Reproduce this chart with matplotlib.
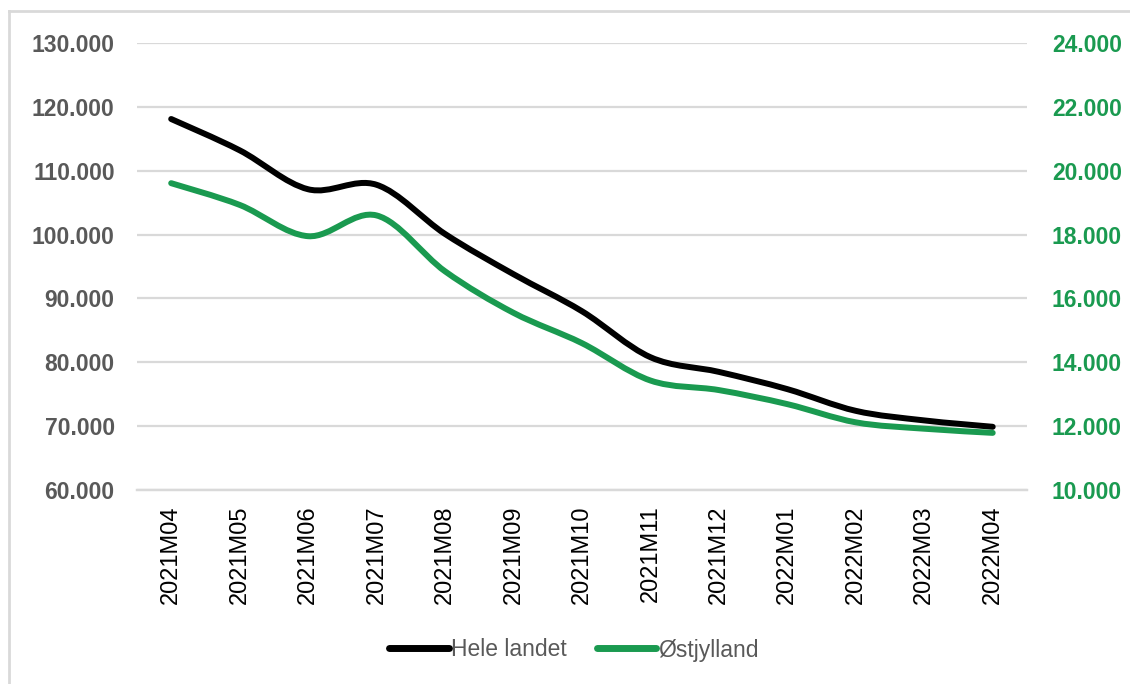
"""Hele landet vs. Østjylland, monthly, two y-axes with Excel-style smoothed lines."""

import matplotlib

matplotlib.use("Agg")
import matplotlib.pyplot as plt
from matplotlib.lines import Line2D
from matplotlib.patches import PathPatch
from matplotlib.path import Path

months = ["2021M04", "2021M05", "2021M06", "2021M07", "2021M08", "2021M09",
          "2021M10", "2021M11", "2021M12", "2022M01", "2022M02", "2022M03",
          "2022M04"]
hele_landet = [118100, 113200, 107100, 107800, 100100, 93800, 88000,
               80800, 78500, 75800, 72400, 70900, 69900]
oestjylland = [19610, 18930, 17950, 18600, 16850, 15550, 14600,
               13430, 13130, 12690, 12120, 11920, 11790]

left_ticks = [60000, 70000, 80000, 90000, 100000, 110000, 120000, 130000]
right_ticks = [10000, 12000, 14000, 16000, 18000, 20000, 22000, 24000]

_BLACK = "#000000"
_GREEN = "#1a9a50"
_GRAY_TEXT = "#595959"
_GRID = "#d9d9d9"
_FONT = "Liberation Sans"


def dk(v):
    # Danish thousands separator
    return f"{v:,.0f}".replace(",", ".")


def smooth_path(xs, ys):
    """Catmull-Rom style cubic Bezier through the points, like Excel's smoothed line."""
    verts = [(xs[0], ys[0])]
    codes = [Path.MOVETO]
    n = len(xs)
    for i in range(n - 1):
        p0 = (xs[max(i - 1, 0)], ys[max(i - 1, 0)])
        p1 = (xs[i], ys[i])
        p2 = (xs[i + 1], ys[i + 1])
        p3 = (xs[min(i + 2, n - 1)], ys[min(i + 2, n - 1)])
        c1 = (p1[0] + (p2[0] - p0[0]) / 6, p1[1] + (p2[1] - p0[1]) / 6)
        c2 = (p2[0] - (p3[0] - p1[0]) / 6, p2[1] - (p3[1] - p1[1]) / 6)
        verts += [c1, c2, p2]
        codes += [Path.CURVE4] * 3
    return Path(verts, codes)


fig = plt.figure(figsize=(11.3, 6.84), dpi=100)
ax = fig.add_axes([0.1212, 0.2836, 0.7876, 0.6535])
ax2 = ax.twinx()

x = list(range(len(months)))
ax.add_patch(PathPatch(smooth_path(x, hele_landet), fill=False, edgecolor=_BLACK,
                       linewidth=4.3, capstyle="round", joinstyle="round", zorder=3))
ax2.add_patch(PathPatch(smooth_path(x, oestjylland), fill=False, edgecolor=_GREEN,
                        linewidth=4.3, capstyle="round", joinstyle="round", zorder=3))

ax.set_xlim(-0.5, len(months) - 0.5)
ax.set_ylim(left_ticks[0], left_ticks[-1])
ax2.set_ylim(right_ticks[0], right_ticks[-1])

ax.set_yticks(left_ticks)
ax.set_yticklabels([dk(v) for v in left_ticks], fontfamily=_FONT,
                   fontweight="bold", fontsize=16.5, color=_GRAY_TEXT)
ax2.set_yticks(right_ticks)
ax2.set_yticklabels([dk(v) for v in right_ticks], fontfamily=_FONT,
                    fontweight="bold", fontsize=16.5, color=_GREEN)
ax.set_xticks(x)
ax.set_xticklabels(months, rotation=90, fontfamily=_FONT, fontsize=17,
                   color=_BLACK)

ax.tick_params(axis="y", length=0, pad=16)
ax2.tick_params(axis="y", length=0, pad=18)
ax.tick_params(axis="x", length=0, pad=11)

ax.grid(True, axis="y", color=_GRID, linewidth=1.6, zorder=0)
for a in (ax, ax2):
    for name, spine in a.spines.items():
        spine.set_visible(name == "bottom")
        spine.set_color(_GRID)
        spine.set_linewidth(1.6)

handles = [Line2D([], [], color=_BLACK, linewidth=5, solid_capstyle="round"),
           Line2D([], [], color=_GREEN, linewidth=5, solid_capstyle="round")]
leg = fig.legend(handles, ["Hele landet", "Østjylland"], loc="center",
                 bbox_to_anchor=(0.508, 1 - 650 / 684), ncol=2, frameon=False,
                 handlelength=2.6, handletextpad=0.1, columnspacing=1.3,
                 prop={"family": _FONT, "size": 16.5})
for t in leg.get_texts():
    t.set_color(_GRAY_TEXT)

# Light chart-area border (top and left edges visible in the source)
fig.add_artist(Line2D([9 / 1130, 1], [1 - 11 / 684, 1 - 11 / 684],
                      transform=fig.transFigure, color=_GRID, linewidth=2))
fig.add_artist(Line2D([9 / 1130, 9 / 1130], [0, 1 - 11 / 684],
                      transform=fig.transFigure, color=_GRID, linewidth=2))

fig.savefig("out.png", dpi=100)
plt.close(fig)
